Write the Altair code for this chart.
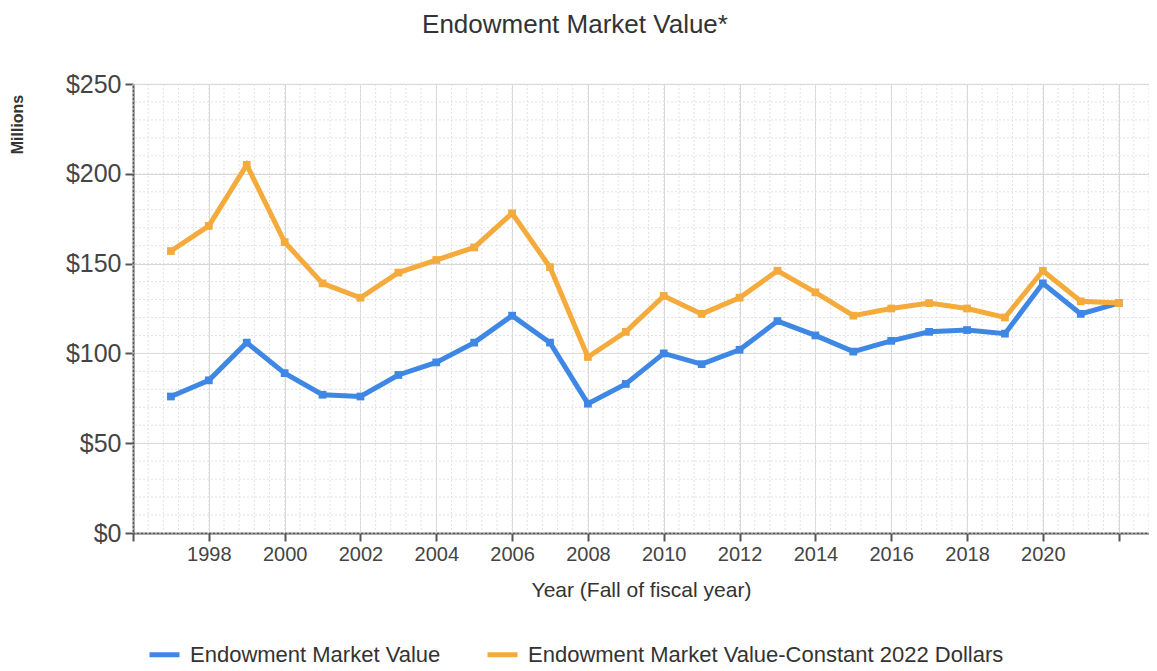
import altair as alt
import numpy as np
import pandas as pd

years = list(range(1997, 2023))
market_value = [76, 85, 106, 89, 77, 76, 88, 95, 106, 121, 106, 72, 83, 100, 94, 102,
                118, 110, 101, 107, 112, 113, 111, 139, 122, 128]
constant_2022 = [157, 171, 205, 162, 139, 131, 145, 152, 159, 178, 148, 98, 112, 132, 122, 131,
                 146, 134, 121, 125, 128, 125, 120, 146, 129, 128]
series_names = ["Endowment Market Value", "Endowment Market Value-Constant 2022 Dollars"]
series_colors = ["#3e87e4", "#f5aa3c"]

x_ticks = list(range(1996, 2023, 2))
y_ticks = [0, 50, 100, 150, 200, 250]
x_minor = [round(v, 2) for v in np.arange(1996, 2022.81, 0.4)]
y_minor = list(range(0, 251, 10))

df = pd.DataFrame({
    "year": years * 2,
    "value": market_value + constant_2022,
    "series": [series_names[0]] * len(years) + [series_names[1]] * len(years),
})

FONT = "Liberation Sans"
xscale = alt.Scale(domain=[1996, 2022.8], nice=False, zero=False)
yscale = alt.Scale(domain=[0, 250], nice=False)

vgrid = alt.Chart(pd.DataFrame({"x": x_minor})).mark_rule(
    color="#e2e2e2", strokeWidth=1, strokeDash=[2, 2]
).encode(x=alt.X("x:Q", scale=xscale))

hgrid = alt.Chart(pd.DataFrame({"y": y_minor})).mark_rule(
    color="#e2e2e2", strokeWidth=1, strokeDash=[2, 2]
).encode(y=alt.Y("y:Q", scale=yscale))

color = alt.Color(
    "series:N",
    scale=alt.Scale(domain=series_names, range=series_colors),
    legend=alt.Legend(
        title=None, orient="none", direction="horizontal",
        legendX=14, legendY=553,
        symbolType="stroke", symbolSize=900, symbolStrokeWidth=5,
        labelFont=FONT, labelFontSize=22, labelColor="#333333", labelLimit=0,
        columnPadding=36, labelOffset=8, symbolOffset=0,
    ),
)

x_enc = alt.X(
    "year:Q", scale=xscale,
    axis=alt.Axis(
        values=x_ticks, format="d",
        labelExpr="(datum.value == 2022 || datum.value == 1996) ? '' : datum.label",
        title="Year (Fall of fiscal year)",
        titleFont=FONT, titleFontSize=21, titleFontWeight="normal", titleColor="#333333",
        titlePadding=15,
        labelFont=FONT, labelFontSize=20, labelColor="#444444", labelPadding=3,
        grid=True, gridColor="#d6d6d6", gridWidth=1,
        domainColor="#555555", domainWidth=2,
        tickColor="#555555", tickWidth=2, tickSize=8,
    ),
)
y_enc = alt.Y(
    "value:Q", scale=yscale,
    axis=alt.Axis(
        values=y_ticks, format="$.0f",
        title="Millions",
        titleFont=FONT, titleFontSize=16, titleFontWeight="bold", titleColor="#333333",
        titleX=-116, titleY=40, titleAlign="center", titleBaseline="middle", titleAngle=-90,
        labelFont=FONT, labelFontSize=25, labelColor="#444444", labelPadding=4,
        grid=True, gridColor="#d6d6d6", gridWidth=1,
        domainColor="#555555", domainWidth=2,
        tickColor="#555555", tickWidth=2, tickSize=8,
    ),
)

blue = alt.Chart(df[df["series"] == series_names[0]]).mark_line(
    strokeWidth=5, point=alt.OverlayMarkDef(shape="square", size=60, filled=True)
).encode(x=x_enc, y=y_enc, color=color)

orange = alt.Chart(df[df["series"] == series_names[1]]).mark_line(
    strokeWidth=5, point=alt.OverlayMarkDef(shape="square", size=60, filled=True)
).encode(x=x_enc, y=y_enc, color=color)

chart = alt.layer(vgrid, hgrid, blue, orange).properties(
    width=1016, height=449,
    title=alt.TitleParams(
        "Endowment Market Value*", font=FONT, fontSize=26, fontWeight="normal",
        color="#333333", anchor="middle", frame="group", dx=-66, offset=34,
    ),
    autosize=alt.AutoSizeParams(type="none"),
    padding={"left": 125, "top": 76, "right": 0, "bottom": 134},
).configure_view(stroke=None).configure(background="white")

chart.save("out.html", embed_options={"renderer": "svg", "actions": False})
